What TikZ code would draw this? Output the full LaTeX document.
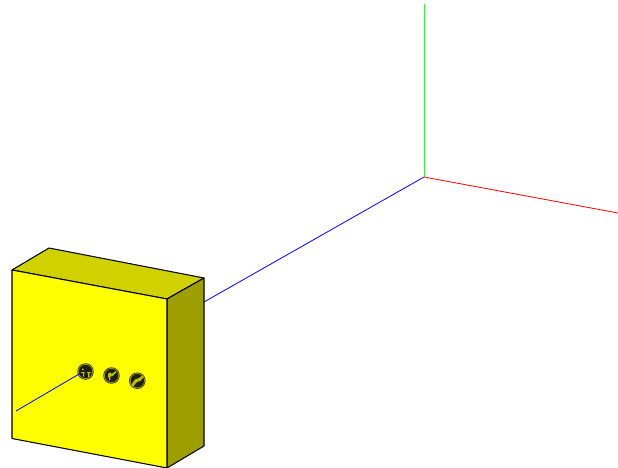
\documentclass[tikz,border=0pt]{standalone}
\definecolor{facefront}{RGB}{255,255,0}
\definecolor{facetop}{RGB}{209,209,0}
\definecolor{faceside}{RGB}{158,158,0}
\definecolor{knobdark}{RGB}{30,30,25}
\definecolor{ringc}{RGB}{150,150,10}
\definecolor{axisgreen}{RGB}{60,240,60}
\tikzset{
  face/.style={draw=black,line width=1.05pt,line join=round},
  axis/.style={line width=0.8pt},
  knobouter/.style={fill=knobdark,draw=none},
  knobring/.style={draw=ringc,line width=0.8pt,fill=none},
  glyph/.style={fill=ringc!60!facefront,draw=none},
}
\begin{document}
\begin{tikzpicture}[x=1pt,y=-1pt]
\useasboundingbox (0,0) rectangle (618,468);
\fill[white] (0,0) rectangle (618,468);
% axes
\draw[axis,axisgreen] (424,177) -- (424,4);
\draw[axis,red] (424,177) -- (618,213);
\draw[axis,blue] (424,177) -- (204,302);
% box
\filldraw[face,fill=facetop] (12,270) -- (49,248) -- (204,278) -- (167,299) -- cycle;
\filldraw[face,fill=faceside] (167,299) -- (204,278) -- (204,446) -- (167,468) -- cycle;
\filldraw[face,fill=facefront] (12,270) -- (167,299) -- (167,468) -- (12,438.5) -- cycle;
% knobs
\foreach \cx/\cy in {85.5/371.5,111.5/375.5,137.3/380.7}{
  \fill[knobouter] (\cx,\cy) circle (8.2);
  \draw[knobring] (\cx,\cy) circle (7.2);
}
% knob glyphs
\fill[glyph] (82,368.5) rectangle (83.5,370) (81,372) rectangle (84.5,373) (83,373) rectangle (84.2,376.5) (87,372) rectangle (90.5,373) (88.2,373) rectangle (89.3,377);
\fill[glyph] (107.5,379) -- (108.5,373) -- (110.5,372.5) -- (111.5,374) -- (116,371) -- (116.5,372) -- (112.5,376) -- (110.5,376.5) -- (110,380.5) -- (109,380.5) -- (109,376) -- cycle;
\fill[glyph] (131.5,384.5) -- (135,379.5) -- (139,378) -- (142.5,375.5) -- (143.5,376.5) -- (141,380.5) -- (137,382) -- (133,386.5) -- cycle;
% line through the face
\draw[axis,blue] (80,373.5) -- (16,411);
\end{tikzpicture}
\end{document}
